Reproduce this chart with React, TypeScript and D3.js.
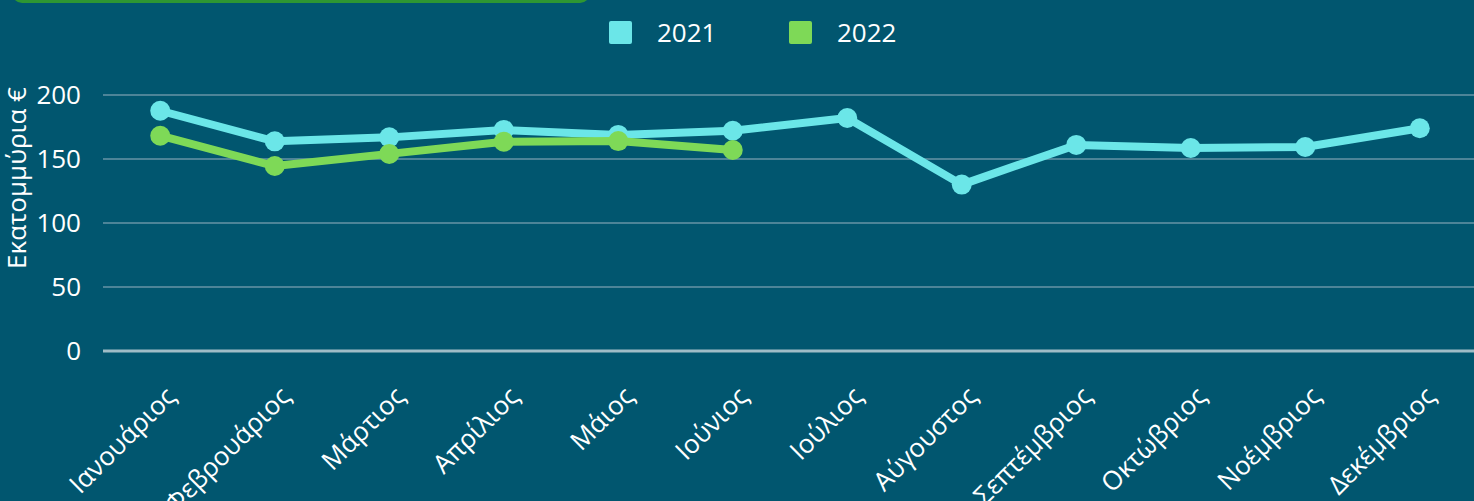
import React from "react";
import * as d3 from "d3";

const months = ["Ιανουάριος","Φεβρουάριος","Μάρτιος","Απρίλιος","Μάιος","Ιούνιος","Ιούλιος","Αύγουστος","Σεπτέμβριος","Οκτώβριος","Νοέμβριος","Δεκέμβριος"];
const values2021 = [187.7, 163.8, 166.9, 172.7, 168.8, 172.1, 182, 130, 161, 158.6, 159.4, 174];
const values2022 = [168.2, 144.5, 154, 163.5, 164, 157];
const yTicks = [0, 50, 100, 150, 200];
const seriesNames = ["2021", "2022"];

const W = 1474, H = 501;
const BG = "#01566f";
const C21 = "#6be6e8";
const C22 = "#7ed957";
const FONT = "'Open Sans', sans-serif";

export default function App() {
  const x = d3.scaleBand<string>().domain(months).range([103, 1477]);
  const y = d3.scaleLinear().domain([0, 200]).range([351, 95]);
  const cx = (m: string) => (x(m) as number) + x.bandwidth() / 2;
  const line = d3.line<number>().x((_, i) => cx(months[i])).y((v) => y(v));
  const series = [
    { name: seriesNames[0], vals: values2021, color: C21 },
    { name: seriesNames[1], vals: values2022, color: C22 },
  ];
  return (
    <svg width={W} height={H} style={{ position: "absolute", left: 0, top: 0, display: "block" }} fontFamily={FONT}>
      <rect x={0} y={0} width={W} height={H} fill={BG} />
      <rect x={12} y={-20} width={578} height={23} rx={10} fill="#2e9632" />
      {yTicks.map((t) => (
        <g key={t}>
          <line x1={103} x2={W} y1={y(t)} y2={y(t)} stroke={t === 0 ? "#9fbcc6" : "#4d8498"} strokeWidth={t === 0 ? 3 : 2} />
          <text x={81} y={y(t)} dy="0.35em" textAnchor="end" fill="#fff" fontSize={26}>{t}</text>
        </g>
      ))}
      <text transform={`translate(26,178) rotate(-90)`} textAnchor="middle" fill="#fff" fontSize={26}>Εκατομμύρια €</text>
      {months.map((m) => (
        <text key={m} transform={`translate(${cx(m) + 17},${398}) rotate(-45)`} textAnchor="end" fill="#fff" fontSize={26}>{m}</text>
      ))}
      {series.map((s) => (
        <g key={s.name}>
          <path d={line(s.vals) || ""} fill="none" stroke={s.color} strokeWidth={8} strokeLinejoin="round" />
          {s.vals.map((v, i) => (
            <circle key={i} cx={cx(months[i])} cy={y(v)} r={10} fill={s.color} />
          ))}
        </g>
      ))}
      {series.map((s, i) => (
        <g key={s.name} transform={`translate(${609 + i * 180},21)`}>
          <rect x={0} y={0} width={23} height={23} rx={2} fill={s.color} />
          <text x={48} y={12} dy="0.36em" fill="#fff" fontSize={26}>{s.name}</text>
        </g>
      ))}
    </svg>
  );
}
